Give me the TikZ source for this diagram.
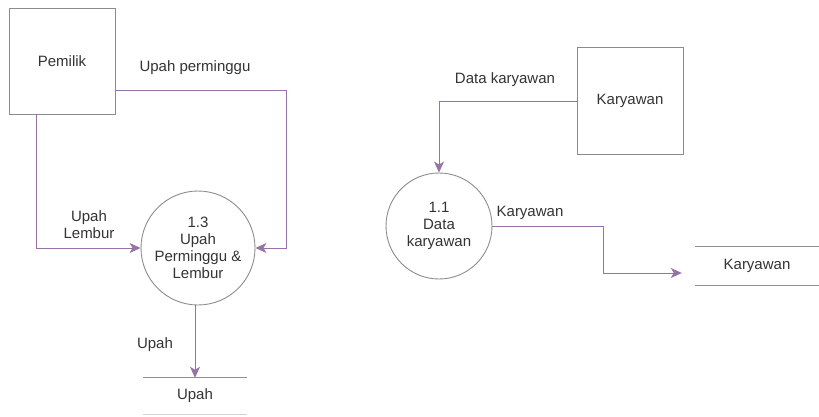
\documentclass[tikz,border=0pt]{standalone}
\usepackage{fontspec}
\setmainfont{Liberation Sans}
\usetikzlibrary{arrows.meta,positioning,calc}
\definecolor{flowc}{HTML}{9673A6}
\definecolor{edgec}{HTML}{8C8C8C}
\definecolor{storec}{HTML}{909090}
\tikzset{
  every node/.style={font=\fontsize{15}{17}\selectfont, text=black!80},
  entity/.style={draw=edgec, line width=0.9pt, minimum width=106pt, minimum height=106pt, inner sep=0pt},
  proc/.style={draw=edgec, circle, line width=0.9pt, align=center, inner sep=0pt},
  store/.style={inner sep=0pt},
  storeline/.style={draw=storec, line width=0.9pt},
  flow/.style={draw=flowc, line width=0.9pt, -{Stealth[length=11pt,width=10pt,inset=3pt]}},
  lbl/.style={align=center, inner sep=0pt}
}
\begin{document}
\begin{tikzpicture}[x=1pt,y=-1pt]
\useasboundingbox (0,0) rectangle (819,417);
% left part
\node[entity] (pemilik) at (62,61) {Pemilik};
\node[proc, minimum size=114pt] (p13) at (198,248) {1.3\\Upah\\Perminggu \&\\Lembur};
\node[store, minimum width=103pt, minimum height=36pt] (su) at (195,396) {Upah};
\draw[storeline] (su.north west) -- (su.north east);
\draw[storeline, draw=storec!40] (su.south west) -- (su.south east);

\draw[flow] ([yshift=-29pt]pemilik.east) -- ++(171,0) |- (p13.east);
\draw[flow] ([xshift=-26pt]pemilik.south) |- (p13.west);
\draw[flow] ([xshift=-3pt]p13.south) -- ([xshift=-3pt]p13.south |- su.north);

\node[lbl] (lpm) at (195,68) {Upah perminggu};
\node[lbl] (lul) at (89,225) {Upah\\Lembur};
\node[lbl] (lu) at (155,345) {Upah};

% right part
\node[entity, minimum height=107pt] (kar) at (630,101) {Karyawan};
\node[proc, minimum size=106pt] (p11) at (439,226) {1.1\\Data\\karyawan};
\node[store, minimum width=124pt, minimum height=39pt] (ks) at (757,266) {Karyawan};
\draw[storeline] (ks.north west) -- (ks.north east);
\draw[storeline] (ks.south west) -- (ks.south east);

\draw[flow] (kar.west) -| (p11.north);
\draw[flow] (p11.east) -- ++(111,0) |- ([shift={(-13,7)}]ks.west);

\node[lbl] (ldk) at (505,80) {Data karyawan};
\node[lbl] (lk) at (530,213) {Karyawan};
\end{tikzpicture}
\end{document}
